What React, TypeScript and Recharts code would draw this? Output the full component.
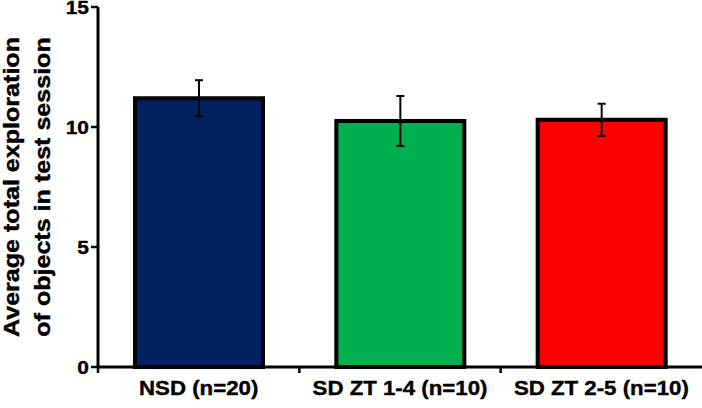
import React from 'react';
import { BarChart, Bar, XAxis, YAxis, Cell, ErrorBar } from 'recharts';

// values
const categories = ['NSD (n=20)', 'SD ZT 1-4 (n=10)', 'SD ZT 2-5 (n=10)'];
const means = [11.2, 10.25, 10.3];
const sems = [0.75, 1.04, 0.67];
const barColors = ['#002060', '#00B050', '#FF0000'];
const yTicks = [0, 5, 10, 15];

const W = 702;
const H = 408;
const LEFT = 98;
const CAT_W = (W - LEFT) / categories.length;
const FONT = '"Liberation Sans", Arial, sans-serif';
const STRETCH = 1.1; // the original font is a bit wider than Arial

const data = categories.map((name, i) => ({ name, mean: means[i], err: sems[i] }));

function YTick({ x, y, payload }: any) {
  return (
    <g>
      <line x1={x - 7} x2={x} y1={y} y2={y} stroke="#000" strokeWidth={2.5} />
      <g transform={`translate(${x - 9},${y}) scale(${STRETCH},1)`}>
        <text x={0} y={0} dy="0.36em" textAnchor="end" fontFamily={FONT} fontWeight="bold" fontSize={19}
          fill="#000" stroke="#000" strokeWidth={0.4}>
          {payload.value}
        </text>
      </g>
    </g>
  );
}

function XTick({ x, y, payload }: any) {
  const bx = x - CAT_W / 2;
  return (
    <g>
      <line x1={bx} x2={bx} y1={y} y2={y + 6} stroke="#000" strokeWidth={2.5} />
      <g transform={`translate(${x},${y + 28}) scale(1.06,1)`}>
        <text x={0} y={0} textAnchor="middle" fontFamily={FONT} fontWeight="bold" fontSize={21}
          fill="#000" stroke="#000" strokeWidth={0.4}>
          {payload.value}
        </text>
      </g>
    </g>
  );
}

function YLabel() {
  const cy = 187;
  const common = {
    fontFamily: FONT, fontWeight: 'bold' as const, fontSize: 22, fill: '#000',
    stroke: '#000', strokeWidth: 0.4, textAnchor: 'middle' as const,
  };
  return (
    <g>
      <g transform={`translate(19,${cy}) rotate(-90) scale(1.14,1)`}>
        <text x={0} y={0} {...common}>Average total exploration</text>
      </g>
      <g transform={`translate(50,${cy}) rotate(-90) scale(1.14,1)`}>
        <text x={0} y={0} {...common}>of objects in test session</text>
      </g>
    </g>
  );
}

export default function App() {
  return (
    <div style={{ position: 'absolute', left: 0, top: 0, width: W, height: H, background: '#fff' }}>
      <BarChart width={W} height={H} data={data} margin={{ top: 7, right: 0, bottom: 0, left: 0 }}>
        <XAxis
          dataKey="name"
          height={41}
          tickSize={0}
          tickMargin={0}
          tickLine={false}
          interval={0}
          axisLine={{ stroke: '#000', strokeWidth: 3 }}
          tick={<XTick />}
        />
        <YAxis
          width={LEFT}
          domain={[0, 15]}
          ticks={yTicks}
          interval={0}
          tickSize={0}
          tickMargin={0}
          tickLine={false}
          axisLine={{ stroke: '#000', strokeWidth: 3 }}
          tick={<YTick />}
          label={{ content: () => <YLabel /> }}
        />
        <Bar dataKey="mean" barSize={128} stroke="#000" strokeWidth={4} isAnimationActive={false}>
          {data.map((d, i) => (
            <Cell key={d.name} fill={barColors[i]} />
          ))}
          <ErrorBar dataKey="err" width={4} stroke="#000" strokeWidth={2} direction="y" />
        </Bar>
      </BarChart>
    </div>
  );
}
